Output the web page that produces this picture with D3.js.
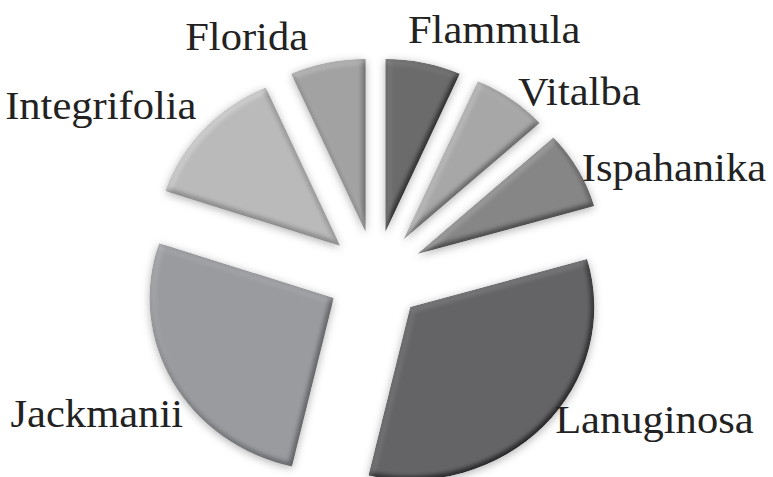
<!DOCTYPE html>
<html><head><meta charset="utf-8">
<script src="https://cdn.jsdelivr.net/npm/d3@7"></script>
<style>html,body{margin:0;padding:0;background:#fff;} svg{display:block}
.lbl{font-family:"Liberation Serif","Times New Roman",Times,Tinos,"Nimbus Roman","DejaVu Serif",serif;}</style>
</head><body>
<svg id="chart" width="773" height="477"></svg>
<script>
// ---- data ----
const categories = ["Flammula","Vitalba","Ispahanika","Lanuginosa","Jackmanii","Integrifolia","Florida"];
const values = [10,10,11,50,40,20,10];
const colors = ["#6b6b6b","#a7a7a7","#868686","#646466","#9a9b9f","#bababa","#a2a2a2"];

// ---- layout ----
const cx = 375.5, cy = 276, R = 173, explode = 45, sx = 1.064;
const svg = d3.select("#chart");

const defs = svg.append("defs");
defs.html(`
<filter id="bevel" x="-20%" y="-20%" width="140%" height="140%" color-interpolation-filters="sRGB">
  <feGaussianBlur in="SourceAlpha" stdDeviation="3" result="blur"/>
  <feDiffuseLighting in="blur" surfaceScale="4" diffuseConstant="1" lighting-color="#ffffff" result="diff">
    <feDistantLight azimuth="235" elevation="55"/>
  </feDiffuseLighting>
  <feComposite in="SourceGraphic" in2="diff" operator="arithmetic" k1="0" k2="1" k3="0.35" k4="-0.2867" result="lit"/>
  <feComposite in="lit" in2="SourceAlpha" operator="in" result="litIn"/>
  <feGaussianBlur in="SourceAlpha" stdDeviation="4" result="sb"/>
  <feOffset in="sb" dx="0" dy="2" result="so"/>
  <feFlood flood-color="#000" flood-opacity="0.3"/>
  <feComposite in2="so" operator="in" result="shadow"/>
  <feMerge><feMergeNode in="shadow"/><feMergeNode in="litIn"/></feMerge>
</filter>`);

const data = categories.map((c, i) => ({name: c, value: values[i], color: colors[i]}));
const pie = d3.pie().sort(null).value(d => d.value);
const arc = d3.arc().innerRadius(0).outerRadius(R);
const arcs = pie(data);

const g = svg.append("g").attr("transform", `translate(${cx},${cy}) scale(${sx},1)`);
g.selectAll("path").data(arcs).join("path")
  .attr("d", arc)
  .attr("transform", d => {
    const a = (d.startAngle + d.endAngle) / 2;
    return `translate(${Math.sin(a) * explode},${-Math.cos(a) * explode})`;
  })
  .attr("fill", d => d.data.color)
  .attr("filter", "url(#bevel)");

// ---- labels ----
const Rl = 225;
const labelNudge = {
  Flammula: [0, -4], Florida: [-1, 3], Vitalba: [2.5, -1.5], Ispahanika: [-2.7, 2],
  Lanuginosa: [6, -11], Jackmanii: [16.5, 28], Integrifolia: [-2, -19]
};
function labelPos(d) {
  const a = (d.startAngle + d.endAngle) / 2, s = Math.sin(a), c = Math.cos(a);
  let x = cx + s * Rl * sx, yc = cy - c * Rl;
  if (Math.abs(s) < 0.3) { x -= 17; yc -= 22; }
  const n = labelNudge[d.data.name] || [0, 0];
  return {x: x + n[0], y: yc + 13 + n[1], anchor: s >= 0 ? "start" : "end"};
}
svg.append("g").selectAll("text").data(arcs).join("text")
  .attr("class", "lbl")
  .each(function(d) {
    const p = labelPos(d);
    d3.select(this)
      .attr("transform", `translate(${p.x},${p.y}) scale(${sx},1)`)
      .attr("text-anchor", p.anchor);
  })
  .attr("font-size", 40)
  .attr("fill", "#222")
  .text(d => d.data.name);
</script>
</body></html>
